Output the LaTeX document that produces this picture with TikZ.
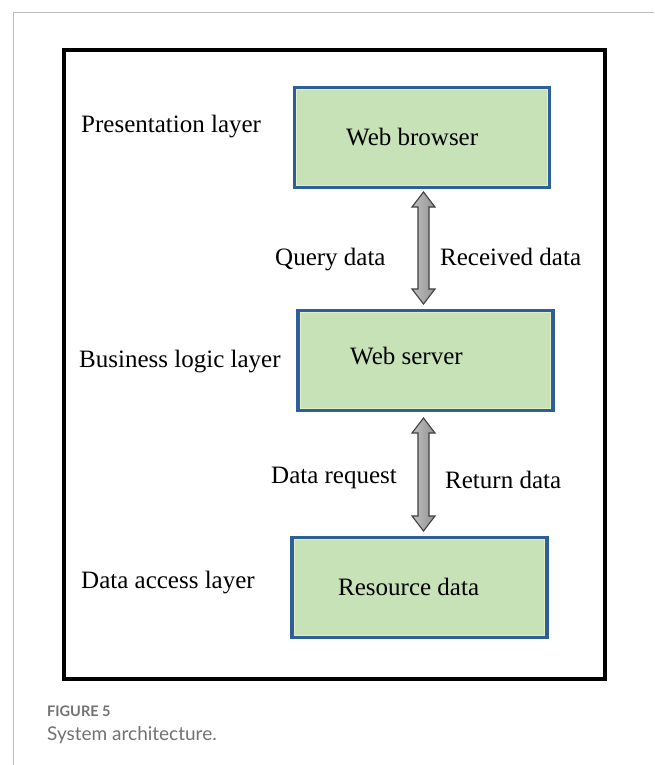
\documentclass[tikz,border=0pt]{standalone}
\usepackage{fontspec}
\setmainfont{Liberation Serif}
\newfontfamily\capfont{Lato}
\usetikzlibrary{calc}

\definecolor{boxfill}{HTML}{C8E2B8}
\definecolor{boxedge}{HTML}{2F5F98}
\definecolor{boxinner}{HTML}{E4EEC4}
\definecolor{framegray}{HTML}{BDBDBD}
\definecolor{capgray}{HTML}{727272}
\definecolor{arrowedge}{HTML}{404040}

\tikzset{
  layerbox/.style={draw=boxedge, line width=3.2pt, fill=boxfill,
    minimum width=255pt, minimum height=100pt, inner sep=0pt, outer sep=0pt},
  txt/.style={anchor=base west, inner sep=0pt, font=\fontsize{25}{30}\selectfont},
  arrowbody/.style={draw=arrowedge, line width=1.1pt, line join=miter,
    left color=gray!50, right color=gray!85},
}

% hollow double-headed block arrow between two named points
\newcommand\blockarrow[2]{%
  \path[arrowbody] let \p1=(#1), \p2=(#2) in
    (\x1,\y1) -- (\x1+11.5pt,\y1-15pt) -- (\x1+5.5pt,\y1-15pt)
    -- (\x1+5.5pt,\y2+15pt) -- (\x1+11.5pt,\y2+15pt) -- (\x1,\y2)
    -- (\x1-11.5pt,\y2+15pt) -- (\x1-5.5pt,\y2+15pt)
    -- (\x1-5.5pt,\y1-15pt) -- (\x1-11.5pt,\y1-15pt) -- cycle;}

\begin{document}
\begin{tikzpicture}[x=1pt, y=-1pt]
  \useasboundingbox (0,0) rectangle (654,765);
  \fill[white] (0,0) rectangle (654,765);

  % page frame
  \draw[framegray, line width=1pt] (13,765) -- (13,13) -- (654,13);

  % figure border
  \draw[black, line width=4pt] (64,50) rectangle (605,679);

  % layer boxes
  \node[layerbox] (wb) at (422,137.5) {};
  \node[layerbox] (ws) at (425.5,360.5) {};
  \node[layerbox] (rd) at (419.5,587.5) {};
  \foreach \b in {wb,ws,rd}
    \draw[boxinner, line width=0.8pt]
      ([shift={(2.3pt,-2.3pt)}]\b.north west) rectangle ([shift={(-2.3pt,2.3pt)}]\b.south east);

  \node[txt] (twb) at (346,145) {Web browser};
  \node[txt] (tws) at (350,364) {Web server};
  \node[txt] (trd) at (338,595) {Resource data};

  % layer names
  \node[txt] (lp) at (81,132) {Presentation layer};
  \node[txt] (lb) at (79,367) {Business logic layer};
  \node[txt] (ld) at (81,588) {Data access layer};

  % arrows between layers
  \coordinate (a1t) at (423.5,192);
  \coordinate (a1b) at (423.5,304);
  \coordinate (a2t) at (423.5,418);
  \coordinate (a2b) at (423.5,531);
  \blockarrow{a1t}{a1b}
  \blockarrow{a2t}{a2b}

  % arrow labels
  \node[txt] (q) at (275,265) {Query data};
  \node[txt] (r) at (440,265) {Received data};
  \node[txt] (dr) at (271,483) {Data request};
  \node[txt] (rt) at (445,488) {Return data};

  % caption
  \node[anchor=base west, inner sep=0pt, text=capgray,
        font=\capfont\bfseries\fontsize{14.5}{17}\selectfont] (fig) at (47,716) {FIGURE 5};
  \node[anchor=base west, inner sep=0pt, text=capgray,
        font=\capfont\fontsize{19}{22}\selectfont] (cap) at (47,740) {System architecture.};
\end{tikzpicture}
\end{document}
